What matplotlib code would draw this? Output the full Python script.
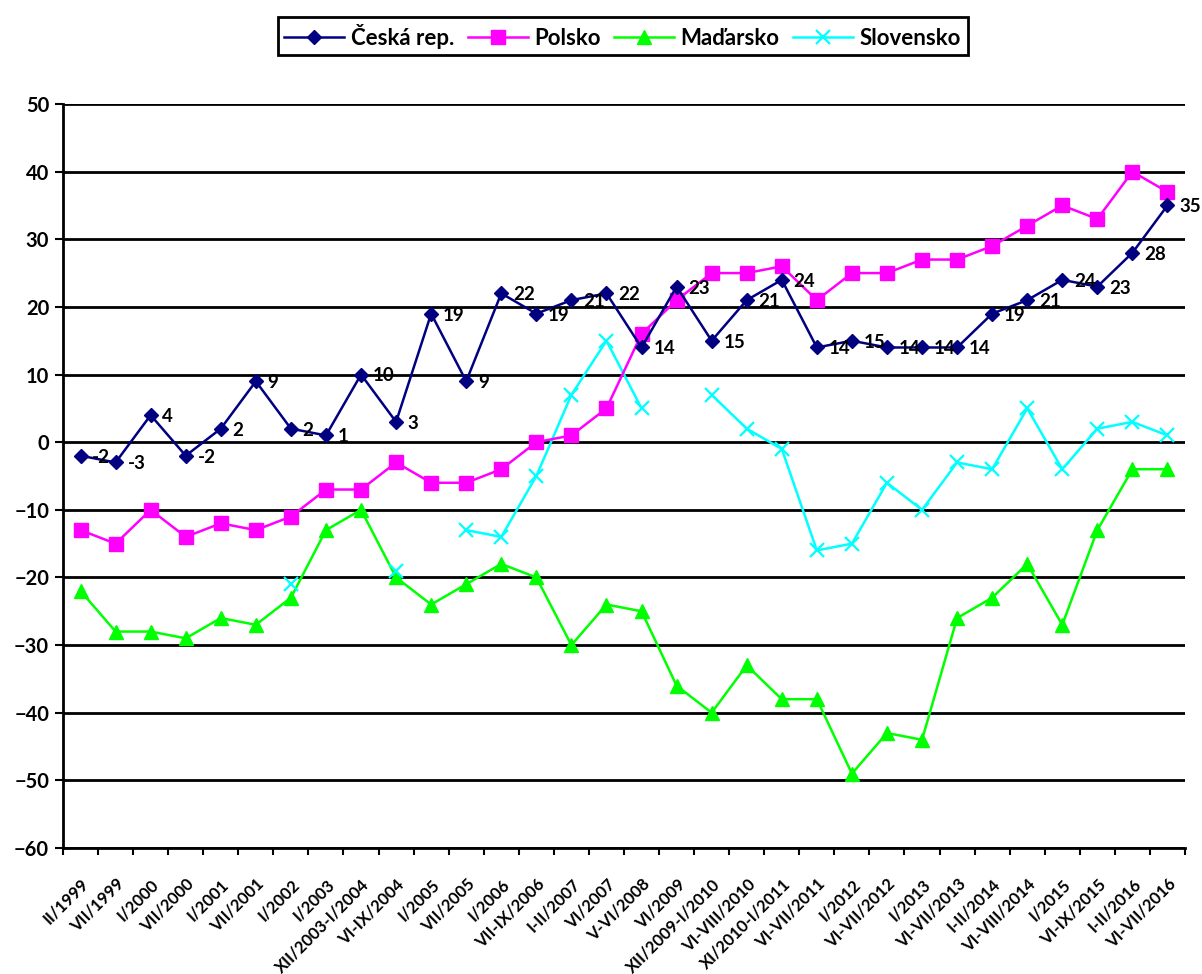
import numpy as np
import matplotlib
matplotlib.use("Agg")
import matplotlib.pyplot as plt

plt.rcParams['font.family'] = ['Lato', 'DejaVu Sans']
plt.rcParams['font.weight'] = 'bold'

periods = ['II/1999', 'VII/1999', 'I/2000', 'VII/2000', 'I/2001', 'VII/2001',
           'I/2002', 'I/2003', 'XII/2003-I/2004', 'VI-IX/2004', 'I/2005',
           'VII/2005', 'I/2006', 'VII-IX/2006', 'I-II/2007', 'VI/2007',
           'V-VI/2008', 'VI/2009', 'XII/2009-I/2010', 'VI-VIII/2010',
           'XI/2010-I/2011', 'VI-VII/2011', 'I/2012', 'VI-VII/2012', 'I/2013',
           'VI-VII/2013', 'I-II/2014', 'VI-VIII/2014', 'I/2015', 'VI-IX/2015',
           'I-II/2016', 'VI-VII/2016']

ceska = [-2, -3, 4, -2, 2, 9, 2, 1, 10, 3, 19, 9, 22, 19, 21, 22,
         14, 23, 15, 21, 24, 14, 15, 14, 14, 14, 19, 21, 24, 23, 28, 35]
polsko = [-13, -15, -10, -14, -12, -13, -11, -7, -7, -3, -6, -6, -4, 0, 1, 5,
          16, 21, 25, 25, 26, 21, 25, 25, 27, 27, 29, 32, 35, 33, 40, 37]
madarsko = [-22, -28, -28, -29, -26, -27, -23, -13, -10, -20, -24, -21, -18, -20, -30, -24,
            -25, -36, -40, -33, -38, -38, -49, -43, -44, -26, -23, -18, -27, -13, -4, -4]
nan = np.nan
slovensko = [nan, nan, nan, nan, nan, nan, -21, nan, nan, -19, nan, -13, -14, -5, 7, 15,
             5, nan, 7, 2, -1, -16, -15, -6, -10, -3, -4, 5, -4, 2, 3, 1]

x = np.arange(len(periods))

fig = plt.figure(figsize=(12.02, 9.74), dpi=100)
ax = fig.add_axes([63/1202, 1 - 848/974, (1185-63)/1202, (848-104)/974])

ax.plot(x, ceska, color='#000080', lw=1.8, marker='D', ms=7.5, label='Česká rep.', zorder=5)
ax.plot(x, polsko, color='#FF00FF', lw=1.8, marker='s', ms=9.5, label='Polsko', zorder=4)
ax.plot(x, madarsko, color='#00FF00', lw=1.8, marker='^', ms=9.5, label='Maďarsko', zorder=3)
ax.plot(x, slovensko, color='#00FFFF', lw=1.8, marker='x', ms=9.5, mew=1.6, label='Slovensko', zorder=3)

# popisky hodnot jen pro ČR
for xi, v in zip(x, ceska):
    ax.annotate(str(v), (xi, v), xytext=(8.5, -1), textcoords='offset points',
                ha='left', va='center', fontsize=13.5, fontweight='bold', zorder=6,
                annotation_clip=False)

ax.set_xlim(-0.5, len(periods) - 0.5)
ax.set_ylim(-60, 50)
ax.set_yticks(range(-60, 51, 10))
ax.yaxis.grid(True, color='black', lw=2)
ax.set_axisbelow(True)

ax.set_xticks(np.arange(-0.5, len(periods), 1.0))
ax.set_xticklabels([])
ax.set_xticks(x, minor=True)
ax.set_xticklabels(periods, minor=True, rotation=45, ha='right', va='top',
                   rotation_mode='anchor', fontsize=12, fontweight='bold')
ax.tick_params(axis='x', which='minor', length=0, pad=20)
ax.tick_params(axis='x', which='major', length=5, width=1.5, direction='out')
ax.tick_params(axis='y', length=6, width=1.5, direction='out', labelsize=14.5, pad=4)
for lab in ax.get_yticklabels():
    lab.set_fontweight('bold')

for s in ['top', 'right']:
    ax.spines[s].set_visible(False)
ax.spines['left'].set_linewidth(2)
ax.spines['bottom'].set_linewidth(2)

leg = fig.legend(loc='upper center', bbox_to_anchor=(0.518, 0.994), ncol=4,
                 fancybox=False, edgecolor='black', framealpha=1,
                 prop={'weight': 'bold', 'size': 16}, handlelength=2.7,
                 columnspacing=0.6, handletextpad=0.3, borderpad=0.3)
leg.get_frame().set_linewidth(2)

fig.savefig('out.png', dpi=100)
